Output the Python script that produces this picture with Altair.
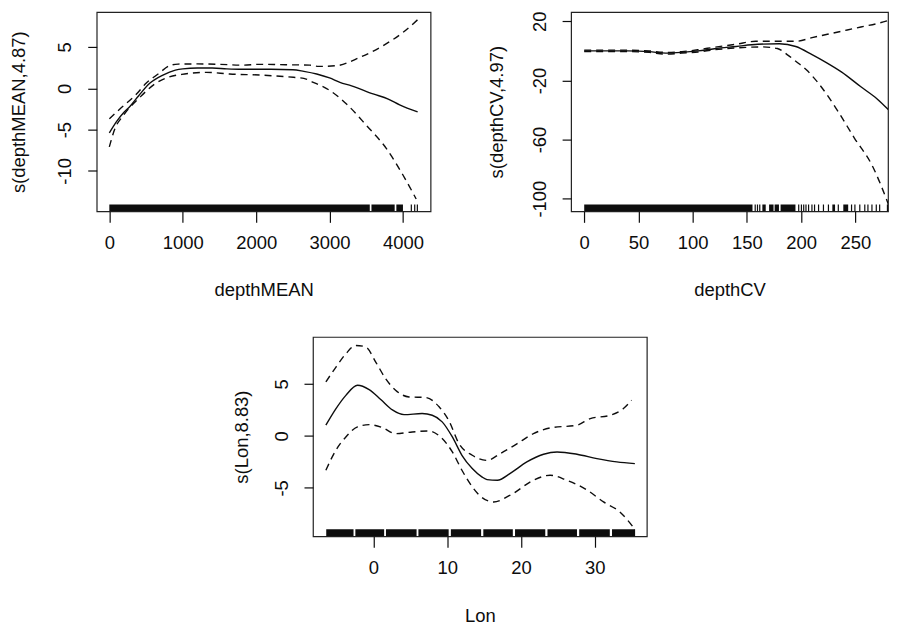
import altair as alt
import pandas as pd

FONT = "Liberation Sans"
INK = "#0d0d0d"
FS = 18.5

# ---------------- Panel 1: depthMEAN ----------------
p1_fit_x = [0, 100, 200, 280, 400, 550, 730, 900, 1000, 1200, 1400, 1600, 1800, 2000,
            2200, 2500, 2650, 2825, 3000, 3141, 3300, 3593, 3800, 3955, 4200]
p1_fit_y = [-5.4, -4.0, -2.9, -2.2, -0.9, 0.6, 1.6, 2.2, 2.35, 2.45, 2.45, 2.35, 2.3, 2.3,
            2.3, 2.25, 2.05, 1.73, 1.25, 0.72, 0.3, -0.68, -1.3, -2.0, -2.85]
p1_up_x = [0, 144, 370, 500, 665, 823, 937, 1200, 1500, 1800, 2055, 2400, 2733, 2850,
           3096, 3412, 3729, 4000, 4200]
p1_up_y = [-3.7, -2.5, -0.7, 0.6, 1.73, 2.74, 2.93, 2.95, 2.9, 2.8, 2.9, 2.85, 2.8, 2.65,
           2.74, 3.74, 5.16, 6.76, 8.3]
p1_lo_x = [0, 76, 190, 415, 619, 801, 1026, 1321, 1638, 2055, 2507, 2650, 2778, 3005,
           3231, 3503, 3775, 4000, 4180]
p1_lo_y = [-7.1, -4.9, -3.3, -1.1, 0.52, 1.33, 1.73, 1.93, 1.73, 1.6, 1.33, 1.2, 0.72, -0.28,
           -1.9, -4.5, -7.3, -10.5, -13.4]
p1_rug_start = [0, 3571, 3910]
p1_rug_end = [3548, 3887, 4000]
p1_rug_ticks = [4114, 4160, 4196]

# ---------------- Panel 2: depthCV ----------------
p2_fit_x = [0, 20, 40, 60, 75, 90, 105, 120, 140, 160, 180, 195, 210, 222, 237, 255, 270, 282]
p2_fit_y = [0, 0, 0, -0.5, -1.5, -1.0, 0, 1.5, 3.0, 4.5, 4.8, 3.0, -2.5, -7.4, -14.2, -24.3, -32.5, -41]
p2_up_x = [0, 20, 40, 60, 75, 90, 105, 120, 140, 158, 180, 195, 210, 234, 255, 270, 282]
p2_up_y = [0.5, 0.5, 0.5, 0, -1, -0.5, 0.8, 2.5, 4.5, 6.5, 6.5, 6.5, 9.0, 12.8, 16.2, 18.5, 21]
p2_lo_x = [0, 20, 40, 60, 75, 90, 105, 120, 140, 164, 178, 188, 195, 205, 216, 234, 249, 265, 281]
p2_lo_y = [-0.5, -0.5, -0.5, -1.0, -2.2, -1.5, -0.7, 0.8, 2.0, 2.7, 1.6, -3.0, -7.0, -13, -22,
           -41, -59, -77, -105]
p2_rug_start = [0, 164.2, 170.4, 175.5, 181, 228.7, 238.8]
p2_rug_end = [155.1, 167.3, 174.5, 179.5, 194.7, 231.2, 243.3]
p2_rug_ticks = [157.6, 159.7, 161.8, 197.7, 200.2, 202.3, 204.4, 206.8, 209.9, 212.3, 216,
                220.5, 225.1, 234.2, 246.4, 249.5, 254, 258.6, 261.5, 265.2, 269.2, 272.3, 279.5]

# ---------------- Panel 3: Lon ----------------
p3_fit_x = [-6.45, -5.1, -3.74, -2.16, -0.58, 0.99, 2.57, 4.15, 6.6, 7.97, 9.32, 10.7, 12.0,
            13.4, 14.7, 15.4, 16.8, 18.55, 20.8, 23.07, 24.9, 27.6, 30.3, 33.0, 35.45]
p3_fit_y = [1.03, 2.6, 3.9, 4.87, 4.45, 3.5, 2.5, 2.05, 2.15, 1.99, 1.35, -0.1, -1.86,
            -3.14, -3.94, -4.2, -4.26, -3.6, -2.5, -1.76, -1.54, -1.76, -2.18, -2.5, -2.66]
p3_up_x = [-6.45, -5.1, -3.74, -2.4, -1.04, 0.31, 1.66, 3.0, 4.82, 7.07, 8.9, 10.2, 11.6,
           13.4, 15.4, 17.2, 19.5, 21.7, 23.96, 27.6, 29.4, 32.1, 33.9, 35.0]
p3_up_y = [5.2, 6.6, 7.9, 8.7, 8.56, 7.1, 5.5, 4.4, 3.75, 3.7, 2.8, 1.5, -0.74,
           -1.86, -2.35, -1.7, -0.74, 0.22, 0.77, 1.03, 1.67, 1.99, 2.63, 3.43]
p3_lo_x = [-6.45, -5.1, -3.74, -2.16, -0.58, 1.2, 3.0, 5.27, 7.5, 9.1, 10.7, 12.0, 13.4,
           14.5, 16.3, 18.55, 21.7, 23.96, 26.2, 28.97, 31.2, 33.4, 35.2]
p3_lo_y = [-3.3, -1.38, -0.1, 0.87, 1.09, 0.8, 0.22, 0.38, 0.48, -0.1, -1.54, -3.3, -4.9,
           -5.8, -6.35, -5.7, -4.26, -3.78, -4.26, -5.2, -6.35, -7.3, -8.75]
p3_rug_start = [-6.4, -2.45, 1.7, 6.1, 10.5, 14.9, 19.2, 23.6, 27.9, 32.35]
p3_rug_end = [-2.7, 1.45, 5.85, 10.2, 14.6, 18.9, 23.3, 27.6, 32.05, 35.4]
p3_rug_ticks = [35.4]


def curves(fx, fy, ux, uy, lx, ly):
    rows = []
    for name, xs, ys in (("fit", fx, fy), ("upper", ux, uy), ("lower", lx, ly)):
        for i, (a, b) in enumerate(zip(xs, ys)):
            rows.append({"x": a, "y": b, "curve": name, "o": i})
    return pd.DataFrame(rows)


def panel(df, rs, re, rt, xdom, ydom, xvals, yvals, xtitle, ytitle, w, h, title_x,
          title_y, hidden_labels=()):
    xs = alt.Scale(domain=xdom, zero=False, nice=False)
    ys = alt.Scale(domain=ydom, zero=False, nice=False)
    if hidden_labels:
        cond = " || ".join(f"datum.value == {v}" for v in hidden_labels)
        ylab = f"({cond}) ? '' : datum.value + ''"
    else:
        ylab = "datum.value + ''"
    xaxis = alt.Axis(values=xvals, title=xtitle, grid=False, domain=False, tickSize=11,
                     tickColor=INK, tickWidth=1.2, labelPadding=11, labelFontSize=FS,
                     labelFont=FONT, labelColor=INK, labelExpr="datum.value + ''",
                     labelFlush=False, labelOverlap=False, titleFont=FONT, titleFontSize=FS,
                     titleFontWeight="normal", titleColor=INK, titleY=title_y,
                     titleBaseline="alphabetic")
    yaxis = alt.Axis(values=yvals, title=ytitle, grid=False, domain=False, tickSize=9,
                     tickColor=INK, tickWidth=1.2, labelAngle=270, labelAlign="center",
                     labelBaseline="bottom", labelPadding=13, labelFontSize=FS,
                     labelFont=FONT, labelColor=INK, labelExpr=ylab, labelFlush=False,
                     labelOverlap=False, titleFont=FONT, titleFontSize=FS,
                     titleFontWeight="normal", titleColor=INK, titleAngle=270,
                     titleX=title_x, titleAlign="center", titleBaseline="middle")
    base = alt.Chart(df)
    fit = base.transform_filter(alt.datum.curve == "fit").mark_line(
        color=INK, strokeWidth=1.4, interpolate="monotone", clip=True
    ).encode(x=alt.X("x:Q", scale=xs, axis=xaxis), y=alt.Y("y:Q", scale=ys, axis=yaxis),
             order="o:Q")
    band = base.transform_filter(alt.datum.curve != "fit").mark_line(
        color=INK, strokeWidth=1.4, strokeDash=[7, 5], interpolate="monotone", clip=True
    ).encode(x=alt.X("x:Q", scale=xs), y=alt.Y("y:Q", scale=ys), detail="curve:N",
             order="o:Q")
    seg = alt.Chart(pd.DataFrame({"s": rs, "e": re})).mark_rect(color=INK, clip=True).encode(
        x=alt.X("s:Q", scale=xs), x2="e:Q", y=alt.value(h - 7), y2=alt.value(h))
    tick = alt.Chart(pd.DataFrame({"t": rt})).mark_rule(
        color=INK, strokeWidth=1.2, clip=True
    ).encode(x=alt.X("t:Q", scale=xs), y=alt.value(h - 7), y2=alt.value(h))
    return alt.layer(seg, tick, band, fit).properties(width=w, height=h)


p1 = panel(curves(p1_fit_x, p1_fit_y, p1_up_x, p1_up_y, p1_lo_x, p1_lo_y),
           p1_rug_start, p1_rug_end, p1_rug_ticks,
           [-172, 4376], [-14.9, 9.23], [0, 1000, 2000, 3000, 4000], [5, 0, -5, -10],
           "depthMEAN", "s(depthMEAN,4.87)", 335, 200, -78.75, 84)
p2 = panel(curves(p2_fit_x, p2_fit_y, p2_up_x, p2_up_y, p2_lo_x, p2_lo_y),
           p2_rug_start, p2_rug_end, p2_rug_ticks,
           [-12.1, 280.0], [-108.6, 26.3], [0, 50, 100, 150, 200, 250],
           [20, 0, -20, -40, -60, -80, -100],
           "depthCV", "s(depthCV,4.97)", 318, 200, -75, 84, hidden_labels=(0, -40, -80))
p3 = panel(curves(p3_fit_x, p3_fit_y, p3_up_x, p3_up_y, p3_lo_x, p3_lo_y),
           p3_rug_start, p3_rug_end, p3_rug_ticks,
           [-8.2, 37.07], [-9.65, 9.52], [0, 10, 20, 30], [5, 0, -5],
           "Lon", "s(Lon,8.83)", 335, 200, -72, 86)

spacer = alt.Chart(pd.DataFrame({"a": [0]})).mark_point(opacity=0).encode(
    x=alt.value(0), y=alt.value(0)
).properties(width=134, height=1, view=alt.ViewBackground(stroke="transparent"))

top = alt.hconcat(p1, p2, spacing=55).resolve_scale(x="independent", y="independent")
bottom = alt.hconcat(spacer, p3, spacing=0).resolve_scale(x="independent", y="independent")
chart = alt.vconcat(top, bottom, spacing=33).resolve_scale(
    x="independent", y="independent"
).properties(
    padding={"left": 0, "top": 1, "right": 0, "bottom": 0}, background="white"
).configure_view(stroke="#222222", strokeWidth=1.2)

chart.save("out.html", embed_options={"renderer": "svg", "actions": False})
